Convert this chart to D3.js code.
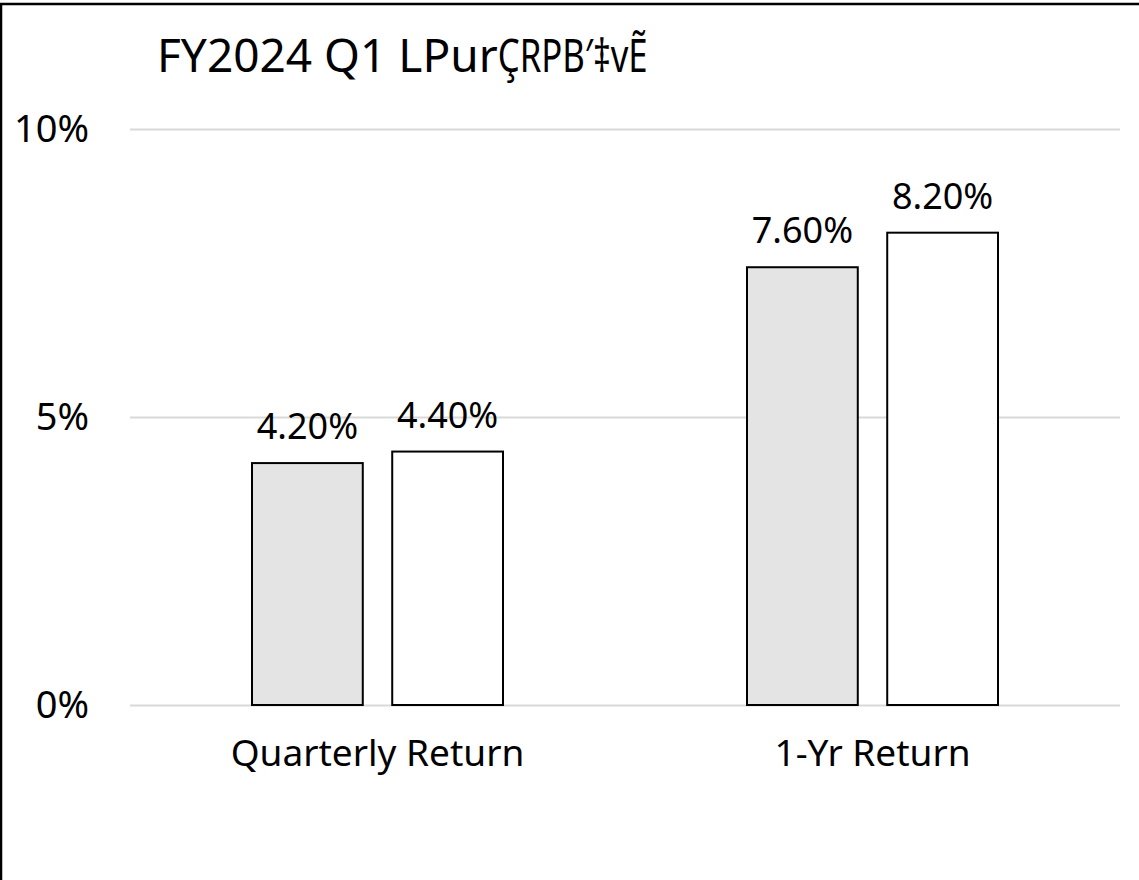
<!DOCTYPE html>
<html>
<head>
<meta charset="utf-8">
<script src="https://cdn.jsdelivr.net/npm/d3@7"></script>
<style>
    body { margin: 0; background: #fff; }
    svg text { font-family: "Noto Sans", "Open Sans", sans-serif; fill: #000; }
</style>
</head>
<body>
<div id="chart"></div>
<script>

// chart data
let categories = ["Quarterly Return", "1-Yr Return"];
let seriesNames = ["Fund", "Benchmark"];
let fundValues = [4.2, 7.6];
let benchmarkValues = [4.4, 8.2];
let yTicks = [0, 5, 10];
let titleStart = "FY2024 Q1 LPur";
let titleTail = "ÇRPB\u2032\u2021vẼ";

let width = 1139, height = 880;
let margin = {top: 129, right: 19, bottom: 175, left: 130};

let svg = d3.select("#chart").append("svg")
    .attr("width", width)
    .attr("height", height);

// outer frame (only top and left edges show in the picture)
svg.append("rect")
    .attr("x", 1)
    .attr("y", 4)
    .attr("width", width + 10)
    .attr("height", height + 10)
    .attr("fill", "none")
    .attr("stroke", "#000")
    .attr("stroke-width", 2.5);

// title
let title = svg.append("text")
    .attr("x", 157)
    .attr("y", 72)
    .attr("font-size", "46px");
title.append("tspan").text(titleStart);
title.append("tspan")
    .attr("textLength", 150)
    .attr("lengthAdjust", "spacingAndGlyphs")
    .text(titleTail);

let g = svg.append("g")
    .attr("transform", `translate(${margin.left}, ${margin.top})`);

let innerW = width - margin.left - margin.right;
let innerH = height - margin.top - margin.bottom;

// scales
let y = d3.scaleLinear()
    .domain([0, 10])
    .range([innerH, 0]);

let x0 = d3.scaleBand()
    .domain(categories)
    .range([0, innerW])
    .paddingInner(0)
    .paddingOuter(0);

let x1 = d3.scaleBand()
    .domain(seriesNames)
    .range([122, x0.bandwidth() - 122])
    .paddingInner(0.21);

// gridlines
let yAxis = d3.axisLeft(y)
    .tickValues(yTicks)
    .tickSize(-innerW)
    .tickPadding(41)
    .tickFormat(d => d + "%");

let yAxisGroup = g.append("g")
    .call(yAxis);
yAxisGroup.select(".domain").remove();
yAxisGroup.selectAll(".tick line")
    .attr("stroke", "#d9d9d9")
    .attr("stroke-width", 2);
yAxisGroup.selectAll(".tick text")
    .attr("font-size", "38px")
    .attr("font-family", null);

// bars
let rows = categories.map((c, i) => ({
    category: c,
    values: [
        {series: seriesNames[0], value: fundValues[i]},
        {series: seriesNames[1], value: benchmarkValues[i]}
    ]
}));

let colors = {"Fund": "#e4e4e4", "Benchmark": "#ffffff"};

let groups = g.selectAll(".group")
    .data(rows)
    .enter()
    .append("g")
    .attr("class", "group")
    .attr("transform", d => `translate(${x0(d.category)}, 0)`);

groups.selectAll("rect")
    .data(d => d.values)
    .enter()
    .append("rect")
    .attr("x", d => x1(d.series))
    .attr("y", d => y(d.value))
    .attr("width", x1.bandwidth())
    .attr("height", d => innerH - y(d.value))
    .attr("fill", d => colors[d.series])
    .attr("stroke", "#000")
    .attr("stroke-width", 2);

// value labels
groups.selectAll(".label")
    .data(d => d.values)
    .enter()
    .append("text")
    .attr("class", "label")
    .attr("x", d => x1(d.series) + x1.bandwidth() / 2)
    .attr("y", d => y(d.value) - 24)
    .attr("text-anchor", "middle")
    .attr("font-size", "36px")
    .text(d => d.value.toFixed(2) + "%");

// category labels
let xAxis = d3.axisBottom(x0)
    .tickSize(0)
    .tickPadding(35);

let xAxisGroup = g.append("g")
    .attr("transform", `translate(0, ${innerH})`)
    .call(xAxis);
xAxisGroup.select(".domain").remove();
xAxisGroup.selectAll(".tick text")
    .attr("font-size", "37px")
    .attr("font-family", null);

</script>
</body>
</html>
